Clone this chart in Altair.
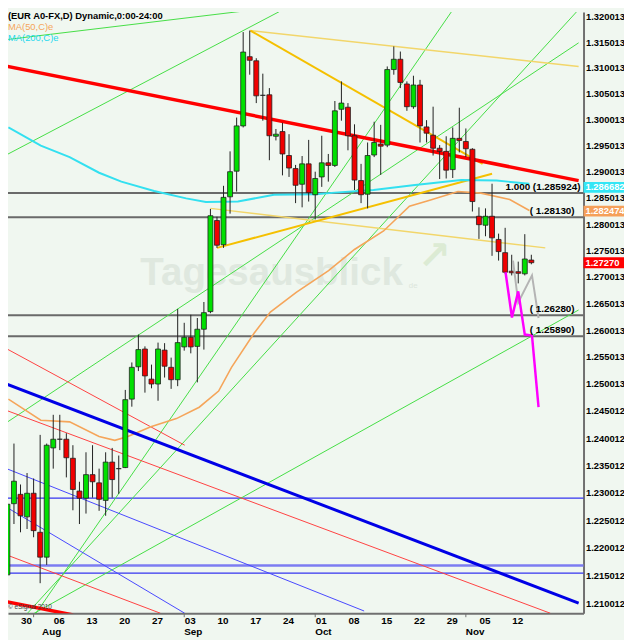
import altair as alt
import pandas as pd

# ---------------- candles (index 0 = 26 Jul 2012, one per trading day) ----------------
opens = [1.2151, 1.2280, 1.2297, 1.2256, 1.2299, 1.2228, 1.2183, 1.2382, 1.2398, 1.2398,
         1.2363, 1.2303, 1.2290, 1.2333, 1.2318, 1.2286, 1.2356, 1.2344, 1.2346, 1.2472,
         1.2532, 1.2565, 1.2509, 1.2500, 1.2563, 1.2531, 1.2508, 1.2569, 1.2587, 1.2570,
         1.2602, 1.2635, 1.2807, 1.2761, 1.2852, 1.2901, 1.2988, 1.3122, 1.3114, 1.3047,
         1.3048, 1.2968, 1.2977, 1.2931, 1.2906, 1.2876, 1.2915, 1.2856, 1.2890, 1.2917,
         1.2912, 1.3020, 1.3024, 1.2969, 1.2883, 1.2857, 1.2932, 1.2953, 1.2951, 1.3097,
         1.3117, 1.3069, 1.3025, 1.3067, 1.2986, 1.2970, 1.2945, 1.2939, 1.2904, 1.2964,
         1.2958, 1.2943, 1.2815, 1.2798, 1.2815, 1.2771, 1.2746, 1.2711, 1.2710, 1.2706,
         1.2732]
highs = [1.2330, 1.2390, 1.2315, 1.2336, 1.2326, 1.2406, 1.2390, 1.2443, 1.2443, 1.2409,
         1.2387, 1.2320, 1.2374, 1.2387, 1.2344, 1.2374, 1.2382, 1.2368, 1.2489, 1.2540,
         1.2592, 1.2570, 1.2536, 1.2577, 1.2576, 1.2549, 1.2640, 1.2614, 1.2629, 1.2623,
         1.2653, 1.2829, 1.2814, 1.2873, 1.2939, 1.3004, 1.3170, 1.3173, 1.3119, 1.3089,
         1.3061, 1.2982, 1.2994, 1.2972, 1.2913, 1.2930, 1.2961, 1.2900, 1.2969, 1.2934,
         1.3036, 1.3074, 1.3032, 1.2991, 1.2915, 1.2956, 1.2996, 1.2990, 1.3103, 1.3142,
         1.3132, 1.3074, 1.3085, 1.3077, 1.2999, 1.3025, 1.2951, 1.2968, 1.2985, 1.3023,
         1.2983, 1.2945, 1.2832, 1.2830, 1.2877, 1.2782, 1.2793, 1.2742, 1.2729, 1.2781,
         1.2742]
lows = [1.2118, 1.2243, 1.2228, 1.2234, 1.2219, 1.2136, 1.2169, 1.2344, 1.2378, 1.2328,
        1.2268, 1.2243, 1.2262, 1.2291, 1.2267, 1.2258, 1.2291, 1.2298, 1.2345, 1.2458,
        1.2524, 1.2484, 1.2492, 1.2469, 1.2512, 1.2491, 1.2496, 1.2562, 1.2557, 1.2503,
        1.2564, 1.2632, 1.2755, 1.2755, 1.2820, 1.2862, 1.2985, 1.3087, 1.3032, 1.2998,
        1.2922, 1.2960, 1.2893, 1.2890, 1.2840, 1.2832, 1.2843, 1.2809, 1.2871, 1.2881,
        1.2909, 1.2998, 1.2941, 1.2865, 1.2840, 1.2830, 1.2928, 1.2894, 1.2947, 1.3087,
        1.3061, 1.3017, 1.3021, 1.2956, 1.2956, 1.2931, 1.2886, 1.2887, 1.2888, 1.2937,
        1.2928, 1.2824, 1.2772, 1.2777, 1.2740, 1.2731, 1.2706, 1.2703, 1.2688, 1.2703,
        1.2724]
closes = [1.2279, 1.2321, 1.2258, 1.2299, 1.2231, 1.2183, 1.2387, 1.2398, 1.2398, 1.2364,
          1.2306, 1.2290, 1.2333, 1.2320, 1.2288, 1.2356, 1.2324, 1.2344, 1.2471, 1.2531,
          1.2564, 1.2515, 1.2500, 1.2565, 1.2533, 1.2508, 1.2577, 1.2587, 1.2569, 1.2602,
          1.2633, 1.2816, 1.2760, 1.2851, 1.2900, 1.2988, 1.3131, 1.3115, 1.3046, 1.3047,
          1.2969, 1.2972, 1.2934, 1.2907, 1.2874, 1.2915, 1.2860, 1.2887, 1.2917, 1.2912,
          1.3017, 1.3032, 1.2969, 1.2884, 1.2856, 1.2931, 1.2956, 1.2949, 1.3097, 1.3117,
          1.3072, 1.3025, 1.3067, 1.2988, 1.2974, 1.2945, 1.2939, 1.2903, 1.2964, 1.2960,
          1.2944, 1.2843, 1.2799, 1.2815, 1.2774, 1.2748, 1.2709, 1.2708, 1.2707, 1.2734,
          1.2727]

# ---------------- axes ----------------
week_idx = [2, 7, 12, 17, 22, 27, 32, 37, 42, 47, 52, 57, 62, 67, 72, 77]
week_lbl = ['30', '06', '13', '20', '27', '03', '10', '17', '24', '01', '08', '15', '22', '29', '05', '12']
month_idx = [5.3, 27, 47, 70]
month_lbl = ['Aug', 'Sep', 'Oct', 'Nov']
month_tick_idx = [4, 27, 47, 70]
y_ticks = [1.210012, 1.215012, 1.220012, 1.225012, 1.230012, 1.235012, 1.240012, 1.245012,
           1.250013, 1.255013, 1.260013, 1.265013, 1.270013, 1.275013, 1.280013, 1.285013,
           1.290013, 1.295013, 1.300013, 1.305013, 1.310013, 1.315013, 1.320013]

# ---------------- moving averages ----------------
ma50_i = [0.15, 5.1, 9.5, 14.0, 16.4, 18.4, 21.9, 25.8, 29.29, 32.25, 34.22, 37.69, 40.15,
          44.1, 49.04, 52.99, 57.44, 61.39, 64.36, 68.8, 72.3, 76.7, 79.7]
ma50_p = [1.2472, 1.2433, 1.2430, 1.2403, 1.2396, 1.2403, 1.2421, 1.2436, 1.2457, 1.2487,
          1.2531, 1.2595, 1.2634, 1.2671, 1.2712, 1.2752, 1.2787, 1.2834, 1.2845, 1.2862,
          1.2859, 1.2847, 1.2826]
ma200_i = [0.15, 5.1, 9.5, 14.0, 17.4, 22.4, 27.3, 30.3, 35.2, 40.7, 47.1, 50.0, 55.9, 61.9,
           69.3, 74.7, 79.7]
ma200_p = [1.2985, 1.2950, 1.2928, 1.2898, 1.2881, 1.2863, 1.2849, 1.2842, 1.2843, 1.2856,
           1.2857, 1.2860, 1.2865, 1.2874, 1.2884, 1.2883, 1.2877]

# ---------------- horizontal levels ----------------
gray_levels = [1.285924, 1.28130, 1.26280, 1.25890]
fib_label = ['1.000 (1.285924)']
level_labels = ['( 1.28130)', '( 1.26280)', '( 1.25890)']
blue_levels_thin = [1.2290, 1.2154]
blue_levels_wide = [1.2168]

# ---------------- trend lines: [x_start, x_end] in candle index, [p_start, p_end] ----------------
red_thick_x = [[-0.34, 87.22], [-0.34, 10.03]]
red_thick_p = [[1.3104, 1.2883], [1.2103, 1.2079]]
blue_thick_x = [[-0.34, 87.22]]
blue_thick_p = [[1.2501, 1.2100]]
blue_thin_x = [[-0.34, 54.47], [-0.34, 27.07]]
blue_thin_p = [[1.2345, 1.2086], [1.2275, 1.2082]]
red_thin_x = [[-0.34, 27.07], [-0.34, 82.9], [-0.34, 23.36]]
red_thin_p = [[1.2567, 1.2387], [1.2452, 1.2082], [1.2188, 1.2082]]
green_x = [[-0.34, 45.0], [-0.34, 43.73], [-0.34, 87.22], [4.1, 87.22], [3.07, 87.07], [4.37, 68.62]]
green_p = [[1.3155, 1.3225], [1.2931, 1.3225], [1.2427, 1.3149], [1.2082, 1.2638],
           [1.2082, 1.3212], [1.2082, 1.3225]]
gold_x = [[37.1, 72.55], [32.0, 74.0]]
gold_p = [[1.3173, 1.2915], [1.2755, 1.2896]]
yellow_x = [[37.1, 87.22], [31.02, 82.13]]
yellow_p = [[1.3173, 1.3103], [1.2830, 1.2755]]

# ---------------- projections ----------------
magenta_i = [76.06, 77.04, 78.0, 79.0, 80.1, 81.1]
magenta_p = [1.2709, 1.2624, 1.2673, 1.2592, 1.2590, 1.2457]
ghost_i = [77.2, 78.0, 80.1, 81.1]
ghost_p = [1.2731, 1.2652, 1.2703, 1.2623]

# ---------------- price boxes on the axis ----------------
box_p = [1.2870, 1.282474, 1.27270]
box_txt = ['1.286682', '1.282474', '1.27270']
box_col = ['#33E6F5', '#F5A05A', '#FF0000']

# =====================================================================
W, H = 583, 609
BG = '#F0F7F0'
FONT = 'Liberation Sans'
FS = 10
FSY = 9.5

xs = alt.Scale(domain=[0.8444, 87.215], nice=False, zero=False)
ys = alt.Scale(type='log', domain=[1.20820, 1.32092], nice=False)

label_expr = ''.join(f"datum.value == {v} ? '{l}' : " for v, l in zip(week_idx, week_lbl)) + "''"

x_axis = alt.Axis(values=week_idx, labelExpr=label_expr, ticks=False, grid=False, title=None,
                  labelAlign='left', labelPadding=2, labelFont=FONT, labelFontSize=FS,
                  labelFontWeight='bold', labelColor='#000000', labelOverlap=False, labelFlush=False,
                  domainColor='#707070', domainWidth=2)
y_axis = alt.Axis(orient='right', values=y_ticks, format='.6f', ticks=False, grid=False, title=None,
                  labelAlign='left', labelPadding=2, labelFont=FONT, labelFontSize=FSY,
                  labelFontWeight='bold', labelColor='#000000', labelOverlap=False, labelFlush=False,
                  domainColor='#707070', domainWidth=2)


def X(f):
    return alt.X(f, scale=xs, axis=x_axis)


def Y(f):
    return alt.Y(f, scale=ys, axis=y_axis)


df = pd.DataFrame({'i': list(range(len(opens))), 'o': opens, 'h': highs, 'l': lows, 'c': closes})
df['dir'] = ['up' if c > o else ('down' if c < o else 'flat') for o, c in zip(opens, closes)]


def seg_df(xl, pl):
    return pd.DataFrame({'x1': [a[0] for a in xl], 'x2': [a[1] for a in xl],
                         'p1': [a[0] for a in pl], 'p2': [a[1] for a in pl]})


def segs(xl, pl, color, width):
    return alt.Chart(seg_df(xl, pl)).mark_rule(color=color, strokeWidth=width, clip=True).encode(
        x=X('x1:Q'), x2='x2:Q', y=Y('p1:Q'), y2='p2:Q')


def hlines(levels, color, width):
    return alt.Chart(pd.DataFrame({'p': levels})).mark_rule(color=color, strokeWidth=width).encode(
        y=Y('p:Q'))


def path(ii, pp, color, width):
    return alt.Chart(pd.DataFrame({'i': ii, 'p': pp})).mark_line(
        color=color, strokeWidth=width, clip=True).encode(x=X('i:Q'), y=Y('p:Q'), order='i:Q')


def level_text(levels, texts, xpix):
    return alt.Chart(pd.DataFrame({'p': levels, 't': texts})).mark_text(
        font=FONT, fontSize=FS, fontWeight='bold', color='#000000', align='right', dy=-6.5).encode(
        y=Y('p:Q'), x=alt.value(xpix), text='t:N')


one = pd.DataFrame({'k': [0]})


def label(txt, x, y, size=FS, color='#000000', weight='bold', align='left', baseline='middle', font=FONT):
    return alt.Chart(one).mark_text(text=txt, fontSize=size, color=color, fontWeight=weight,
                                    align=align, baseline=baseline, font=font).encode(
        x=alt.value(x), y=alt.value(y))


base = alt.Chart(df).mark_point(opacity=0).encode(x=X('i:Q'), y=Y('c:Q'))

watermark = label('Tagesausblick', 267, 276, size=39, color='#DFE8DF', align='center', baseline='alphabetic')
watermark_de = label('de', 406, 278, size=8, color='#DCE6DC', weight='normal')
watermark_arrow = label('\u2197', 432, 248, size=40, color='#DCEBD4', align='center', font='DejaVu Sans')

layers = [
    base,
    watermark, watermark_de, watermark_arrow,
    hlines(gray_levels, '#6A6A6A', 2),
    hlines(blue_levels_thin, '#3434F0', 1.2),
    hlines(blue_levels_wide, '#7C7CF2', 2.5),
    segs(green_x, green_p, '#44DD44', 1),
    segs(red_thin_x, red_thin_p, '#FF4040', 1),
    segs(blue_thin_x, blue_thin_p, '#4646FF', 1),
    segs(yellow_x, yellow_p, '#F2D66A', 1.5),
    segs(gold_x, gold_p, '#F5C000', 2),
    path(ma50_i, ma50_p, '#F5A55A', 1.6),
    path(ma200_i, ma200_p, '#33E0F0', 2),
    segs(blue_thick_x, blue_thick_p, '#0000E6', 3),
    segs(red_thick_x, red_thick_p, '#FF0000', 3.5),
    # candles
    alt.Chart(df).mark_rule(color='#202020', strokeWidth=1, clip=True).encode(
        x=X('i:Q'), y=Y('l:Q'), y2='h:Q'),
    alt.Chart(df).mark_bar(size=5, stroke='#202020', strokeWidth=0.8, clip=True).encode(
        x=X('i:Q'), y=Y('o:Q'), y2='c:Q',
        color=alt.Color('dir:N', legend=None,
                        scale=alt.Scale(domain=['up', 'down', 'flat'],
                                        range=['#00E000', '#F00000', '#000000']))),
    path(ghost_i, ghost_p, '#B4B4B4', 2),
    path(magenta_i, magenta_p, '#FF00FF', 2.5),
    # level labels
    level_text(gray_levels[:1], fib_label, 580),
    level_text(gray_levels[1:], level_labels, 574),
    # price boxes on the right axis
    alt.Chart(pd.DataFrame({'p': box_p, 'c': box_col})).mark_rect(yOffset=-5.5, y2Offset=5.5).encode(
        y=Y('p:Q'), y2='p:Q', x=alt.value(583), x2=alt.value(624),
        color=alt.Color('c:N', scale=None)),
    alt.Chart(pd.DataFrame({'p': box_p, 't': box_txt})).mark_text(
        font=FONT, fontSize=FSY, fontWeight='bold', color='#FFFFFF', align='left').encode(
        y=Y('p:Q'), x=alt.value(585), text='t:N'),
    # month labels and month ticks under the axis
    alt.Chart(pd.DataFrame({'i': month_idx, 't': month_lbl})).mark_text(
        font=FONT, fontSize=FS, fontWeight='bold', color='#000000', align='left', baseline='middle').encode(
        x=X('i:Q'), y=alt.value(H + 19), text='t:N'),
    alt.Chart(pd.DataFrame({'i': month_tick_idx})).mark_rule(color='#707070', strokeWidth=1).encode(
        x=X('i:Q'), y=alt.value(H), y2=alt.value(H + 4)),
    # header texts
    label('(EUR A0-FX,D) Dynamic,0:00-24:00', 0, 4, size=9.5),
    label('MA(50,C)e', 0, 15, size=9.5, color='#F5A55A', weight='normal'),
    label('MA(200,C)e', 0, 26, size=9.5, color='#22D8EE', weight='normal'),
    label('\u00a9 eSignal 2010', 0, 603, size=6.5, color='#404040', weight='normal'),
]

chart = alt.layer(*layers).properties(
    width=W, height=H,
    autosize=alt.AutoSizeParams(type='none'),
    padding={'left': 0, 'top': 0, 'right': 41, 'bottom': 23},
).configure(background=BG).configure_view(stroke=None)

chart.save('out.html', embed_options={'renderer': 'svg', 'actions': False})
